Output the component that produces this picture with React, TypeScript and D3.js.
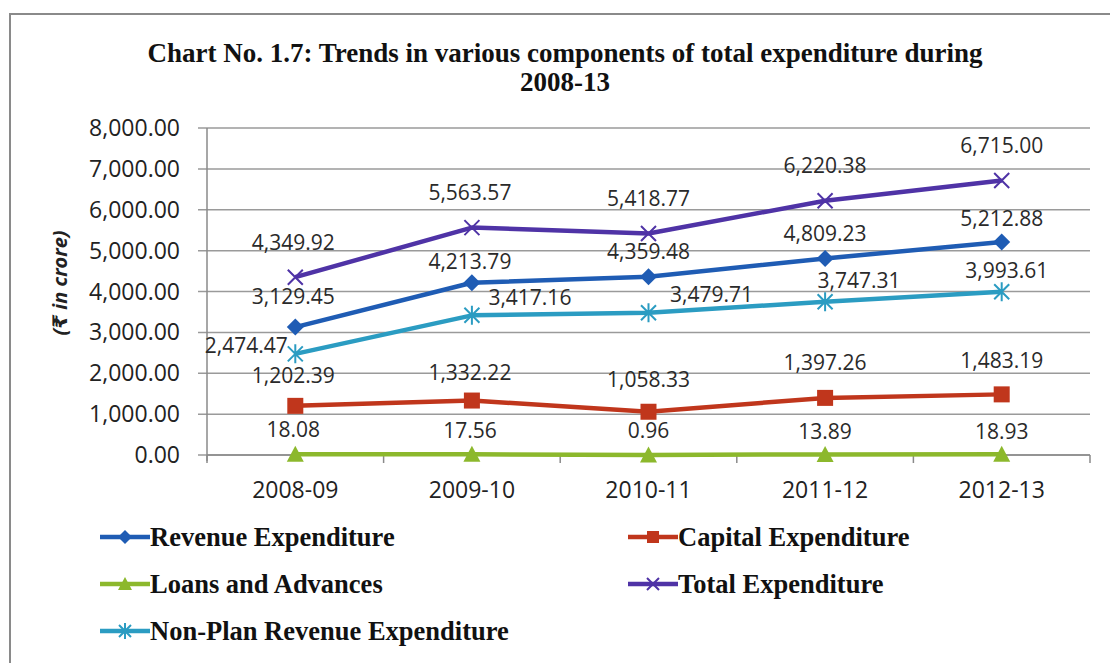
import React from "react";
import * as d3 from "d3";

const categories = ["2008-09", "2009-10", "2010-11", "2011-12", "2012-13"];
const revenueExpenditure = [3129.45, 4213.79, 4359.48, 4809.23, 5212.88];
const capitalExpenditure = [1202.39, 1332.22, 1058.33, 1397.26, 1483.19];
const loansAndAdvances = [18.08, 17.56, 0.96, 13.89, 18.93];
const totalExpenditure = [4349.92, 5563.57, 5418.77, 6220.38, 6715.0];
const nonPlanRevenueExpenditure = [2474.47, 3417.16, 3479.71, 3747.31, 3993.61];
const yTicks = [0, 1000, 2000, 3000, 4000, 5000, 6000, 7000, 8000];

const titleLine1 = "Chart No. 1.7: Trends in various components of total expenditure during";
const titleLine2 = "2008-13";
const yTitle = "(\u20B9 in crore)";

type Marker = "diamond" | "square" | "triangle" | "x" | "star";
interface Series {
  name: string;
  values: number[];
  color: string;
  marker: Marker;
}

const series: Series[] = [
  { name: "Revenue Expenditure", values: revenueExpenditure, color: "#1f5cb4", marker: "diamond" },
  { name: "Capital Expenditure", values: capitalExpenditure, color: "#c0361c", marker: "square" },
  { name: "Loans and Advances", values: loansAndAdvances, color: "#8cb82c", marker: "triangle" },
  { name: "Total Expenditure", values: totalExpenditure, color: "#4f33a6", marker: "x" },
  { name: "Non-Plan Revenue Expenditure", values: nonPlanRevenueExpenditure, color: "#2b9cc2", marker: "star" },
];

// label offsets (dx, dy from point to label centre) per series, per point
const labelOffsets: [number, number][][] = [
  [[-2, -30], [-2, -21], [0, -25], [0, -25], [0, -23]],
  [[-2, -30], [-2, -28], [0, -32], [0, -35], [0, -34]],
  [[-2, -25], [-2, -24], [0, -24], [0, -23], [0, -23]],
  [[-2, -35], [-2, -35], [0, -35], [0, -35], [0, -35]],
  [[-49, -8], [58, -18], [63, -18], [34, -21], [5, -21]],
];

const W = 1110;
const H = 663;
const plotLeft = 207;
const plotRight = 1090;
const plotTop = 128;
const plotBottom = 455;

const x = d3.scaleBand<string>().domain(categories).range([plotLeft, plotRight]).padding(0);
const y = d3.scaleLinear().domain([0, 8000]).range([plotBottom, plotTop]);
const cx = (c: string) => (x(c) as number) + x.bandwidth() / 2;
const fmt = d3.format(",.2f");

function MarkerShape({ type, px, py, color, s }: { type: Marker; px: number; py: number; color: string; s: number }) {
  const h = s / 2;
  switch (type) {
    case "diamond":
      return <path d={`M${px},${py - h - 1}L${px + h + 1},${py}L${px},${py + h + 1}L${px - h - 1},${py}Z`} fill={color} />;
    case "square":
      return <rect x={px - h} y={py - h} width={s} height={s} fill={color} />;
    case "triangle":
      return <path d={`M${px},${py - h - 1}L${px + h + 1},${py + h}L${px - h - 1},${py + h}Z`} fill={color} />;
    case "x":
      return (
        <path
          d={`M${px - h},${py - h}L${px + h},${py + h}M${px - h},${py + h}L${px + h},${py - h}`}
          stroke={color}
          strokeWidth={2}
          fill="none"
        />
      );
    case "star":
      return (
        <path
          d={`M${px - h},${py - h}L${px + h},${py + h}M${px - h},${py + h}L${px + h},${py - h}M${px},${py - h - 2}L${px},${py + h + 2}`}
          stroke={color}
          strokeWidth={2}
          fill="none"
        />
      );
  }
}

const legendItems = [
  { idx: 0, lx: 100, ly: 537 },
  { idx: 1, lx: 628, ly: 537 },
  { idx: 2, lx: 100, ly: 584 },
  { idx: 3, lx: 628, ly: 584 },
  { idx: 4, lx: 100, ly: 631 },
];

export default function App() {
  const line = d3
    .line<number>()
    .x((_, i) => cx(categories[i]))
    .y((v) => y(v));

  const sansFont = "'Open Sans', 'DejaVu Sans', sans-serif";
  const serifFont = "'Liberation Serif', 'Times New Roman', serif";

  return (
    <svg
      width={W}
      height={H}
      viewBox={`0 0 ${W} ${H}`}
      style={{ position: "absolute", left: 0, top: 0, display: "block", background: "#fff" }}
    >
      <rect x={0} y={0} width={W} height={H} fill="#fff" />
      {/* outer border */}
      <path d={`M10,${H}L10,14L${W},14`} stroke="#8a8a8a" strokeWidth={2} fill="none" />

      {/* title */}
      <text x={565} y={62} textAnchor="middle" fontFamily={serifFont} fontWeight="bold" fontSize={27} fill="#111">
        {titleLine1}
      </text>
      <text x={565} y={91} textAnchor="middle" fontFamily={serifFont} fontWeight="bold" fontSize={27} fill="#111">
        {titleLine2}
      </text>

      {/* gridlines */}
      {yTicks.map((t) => (
        <line key={t} x1={plotLeft - 9} x2={plotRight} y1={y(t)} y2={y(t)} stroke="#9a9a9a" strokeWidth={1.5} />
      ))}
      {/* y axis */}
      <line x1={plotLeft} x2={plotLeft} y1={plotTop} y2={plotBottom + 6} stroke="#8a8a8a" strokeWidth={1.5} />
      {/* x axis ticks */}
      {categories.concat([""]).map((c, i) => {
        const xx = plotLeft + i * x.bandwidth();
        return <line key={i} x1={xx} x2={xx} y1={plotBottom} y2={plotBottom + 8} stroke="#8a8a8a" strokeWidth={1.5} />;
      })}
      <line x1={plotLeft} x2={plotRight} y1={plotBottom} y2={plotBottom} stroke="#8a8a8a" strokeWidth={1.5} />

      {/* y tick labels */}
      {yTicks.map((t) => (
        <text
          key={t}
          x={180}
          y={y(t)}
          dy="0.35em"
          textAnchor="end"
          fontFamily={sansFont}
          fontSize={23}
          fill="#222"
        >
          {fmt(t)}
        </text>
      ))}

      {/* x labels */}
      {categories.map((c) => (
        <text key={c} x={cx(c)} y={490} dy="0.35em" textAnchor="middle" fontFamily={sansFont} fontSize={23} fill="#222">
          {c}
        </text>
      ))}

      {/* y title */}
      <text
        transform="translate(60,283) rotate(-90)"
        textAnchor="middle"
        dy="0.35em"
        fontFamily={sansFont}
        fontWeight="bold"
        fontStyle="italic"
        fontSize={20}
        fill="#222"
      >
        {yTitle}
      </text>

      {/* series lines */}
      {series.map((s) => (
        <path key={s.name} d={line(s.values) || ""} fill="none" stroke={s.color} strokeWidth={4.5} strokeLinejoin="round" />
      ))}
      {/* markers */}
      {series.map((s) =>
        s.values.map((v, i) => (
          <MarkerShape key={s.name + i} type={s.marker} px={cx(categories[i])} py={y(v)} color={s.color} s={s.marker === "square" ? 16 : 15} />
        ))
      )}
      {/* data labels */}
      {series.map((s, si) =>
        s.values.map((v, i) => (
          <text
            key={"l" + s.name + i}
            x={cx(categories[i]) + labelOffsets[si][i][0]}
            y={y(v) + labelOffsets[si][i][1]}
            dy="0.35em"
            textAnchor="middle"
            fontFamily={sansFont}
            fontSize={21}
            fill="#2a2a2a"
          >
            {fmt(v)}
          </text>
        ))
      )}

      {/* legend */}
      {legendItems.map(({ idx, lx, ly }) => {
        const s = series[idx];
        return (
          <g key={s.name}>
            <line x1={lx} x2={lx + 50} y1={ly} y2={ly} stroke={s.color} strokeWidth={4.5} />
            <MarkerShape type={s.marker} px={lx + 25} py={ly} color={s.color} s={12} />
            <text x={lx + 50} y={ly} dy="0.35em" fontFamily={serifFont} fontWeight="bold" fontSize={26.5} fill="#111">
              {s.name}
            </text>
          </g>
        );
      })}
    </svg>
  );
}
